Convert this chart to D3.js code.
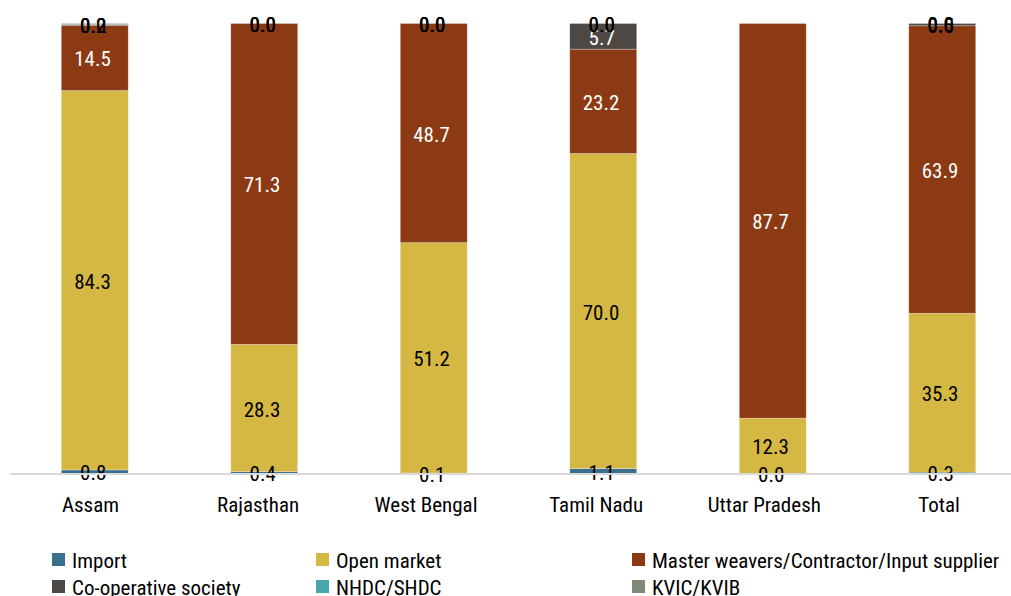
<!DOCTYPE html>
<html>
<head>
<meta charset="utf-8">
<script src="https://cdn.jsdelivr.net/npm/d3@7"></script>
<style>
  html, body { margin: 0; padding: 0; background: #fff; }
  svg { display: block; }
  text { font-family: "Liberation Sans Narrow", "Roboto Condensed", "Arial Narrow", sans-serif; }
</style>
</head>
<body>
<svg id="chart" width="1011" height="596"></svg>
<script>
const categories = ["Assam", "Rajasthan", "West Bengal", "Tamil Nadu", "Uttar Pradesh", "Total"];
const seriesNames = ["Import", "Open market", "Master weavers/Contractor/Input supplier", "Co-operative society", "NHDC/SHDC", "KVIC/KVIB"];
const importVals     = [0.8, 0.4, 0.1, 1.1, 0.0, 0.3];
const openMarket     = [84.3, 28.3, 51.2, 70.0, 12.3, 35.3];
const masterWeavers  = [14.5, 71.3, 48.7, 23.2, 87.7, 63.9];
const coopSociety    = [0.2, 0.0, 0.0, 5.7, null, 0.5];
const nhdcShdc       = [0.0, 0.0, 0.0, 0.0, null, 0.0];
const kvicKvib       = [0.2, 0.0, 0.0, 0.0, null, 0.0];
const colors = ["#3a6f8e", "#d5b843", "#8b3a13", "#4d4844", "#4aa6ad", "#7f8a78"];
const labelColors = ["#000", "#000", "#fff", "#fff", "#000", "#000"];

const seriesVals = [importVals, openMarket, masterWeavers, coopSociety, nhdcShdc, kvicKvib];
const rows = categories.map((c, i) => {
  const r = { cat: c };
  seriesNames.forEach((s, j) => r[s] = seriesVals[j][i]);
  return r;
});
const stacked = d3.stack().keys(seriesNames).value((d, k) => d[k] == null ? 0 : d[k])(rows);

const FS = 21;
const svg = d3.select("#chart");
const x = d3.scaleBand().domain(categories).range([10, 1027]).paddingInner(0.605).paddingOuter(0.3025);
const y = d3.scaleLinear().domain([0, 100]).range([473.5, 23.5]);

const g = svg.append("g");
stacked.forEach((layer, j) => {
  g.selectAll(null).data(layer.filter(d => d.data[layer.key] != null)).enter().append("rect")
    .attr("x", d => x(d.data.cat))
    .attr("width", x.bandwidth())
    .attr("y", d => y(d[1]))
    .attr("height", d => Math.max(0, y(d[0]) - y(d[1])))
    .attr("fill", colors[j])
    .attr("stroke", "rgba(255,255,255,0.4)")
    .attr("stroke-width", 0.7);
});

// axis
const xAxis = d3.axisBottom(x).tickSize(0).tickPadding(24);
const ax = svg.append("g").attr("transform", `translate(0,${y(0)})`).call(xAxis);
ax.select(".domain").remove();
svg.append("line").attr("x1", 10).attr("x2", 1011).attr("y1", y(0) + 0.5).attr("y2", y(0) + 0.5)
  .attr("stroke", "#d9d9d9").attr("stroke-width", 2);
ax.selectAll("text").attr("font-size", FS).attr("fill", "#000")
  .attr("font-family", null)
  .attr("dx", function () { return -0.075 * this.getComputedTextLength(); });

// labels
stacked.forEach((layer, j) => {
  g.selectAll(null).data(layer.filter(d => d.data[layer.key] != null)).enter().append("text")
    .attr("x", d => x(d.data.cat) + x.bandwidth() / 2)
    .attr("y", d => (y(d[0]) + y(d[1])) / 2 + 1)
    .attr("dy", "0.36em")
    .attr("text-anchor", "middle")
    .attr("font-size", FS)
    .attr("fill", d => (d.data[layer.key] >= 1 ? labelColors[j] : "#000"))
    .text(d => d3.format(".1f")(d.data[layer.key]))
    .attr("dx", function () { return -0.06 * this.getComputedTextLength(); });
});

// legend
const legendX = [52, 316, 632];
const legendY = [560, 587];
const lg = svg.append("g");
seriesNames.forEach((s, j) => {
  const cx = legendX[j % 3], cy = legendY[Math.floor(j / 3)];
  lg.append("rect").attr("x", cx).attr("y", cy - 7).attr("width", 13).attr("height", 13).attr("fill", colors[j]);
  lg.append("text").attr("x", cx + 20).attr("y", cy).attr("dy", "0.36em")
    .attr("font-size", FS).attr("fill", "#000").text(s);
});
</script>
</body>
</html>
